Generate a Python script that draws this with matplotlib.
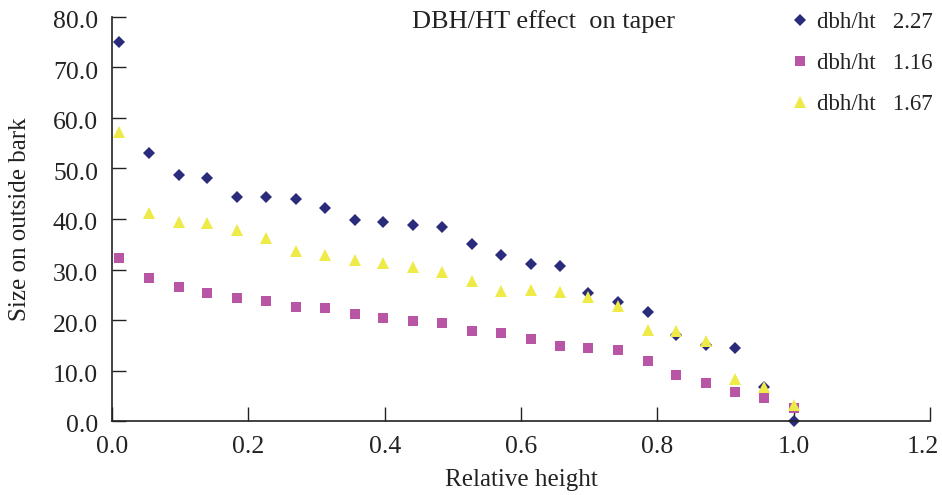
import matplotlib
matplotlib.use("Agg")
import matplotlib.pyplot as plt
from matplotlib.transforms import ScaledTranslation

plt.rcParams['font.family'] = ['Liberation Serif', 'DejaVu Serif']

# Relative height (x) shared by all three series
rel_height = [0.01, 0.055, 0.098, 0.14, 0.183, 0.226, 0.27, 0.313, 0.356, 0.398,
              0.441, 0.484, 0.528, 0.571, 0.614, 0.657, 0.699, 0.743, 0.786, 0.828,
              0.871, 0.914, 0.957, 1.0]

# dbh/ht 2.27
size_227 = [75.0, 53.0, 48.8, 48.2, 44.4, 44.4, 43.9, 42.2, 39.8, 39.5,
            38.9, 38.4, 35.1, 32.9, 31.0, 30.7, 25.4, 23.5, 21.6, 17.1,
            15.1, 14.4, 6.8, 0.0]
# dbh/ht 1.16
size_116 = [32.3, 28.4, 26.5, 25.3, 24.3, 23.7, 22.6, 22.3, 21.2, 20.4,
            19.9, 19.5, 17.9, 17.4, 16.3, 14.9, 14.4, 14.1, 11.8, 9.1,
            7.5, 5.8, 4.5, 2.5]
# dbh/ht 1.67
size_167 = [57.3, 41.2, 39.5, 39.2, 37.8, 36.2, 33.7, 32.8, 31.8, 31.2,
            30.4, 29.6, 27.7, 25.7, 26.0, 25.5, 24.6, 22.7, 18.0, 17.9,
            15.9, 8.3, 6.7, 3.2]

labels = ['dbh/ht   2.27', 'dbh/ht   1.16', 'dbh/ht   1.67']
xticks = [0, 0.2, 0.4, 0.6, 0.8, 1.0, 1.2]
yticks = list(range(0, 90, 10))

fig = plt.figure(figsize=(9.42, 4.95), dpi=100)
ax = fig.add_axes([112 / 942, 1 - 421 / 495, (930 - 112) / 942, (421 - 17) / 495])

ax.plot(rel_height, size_227, 'D', color='#2b2b7c', ms=6.4, mew=0, label=labels[0], clip_on=False)
ax.plot(rel_height, size_116, 's', color='#b955a5', ms=7.2, mew=0, label=labels[1], clip_on=False)
ax.plot(rel_height, size_167, '^', color='#eeea48', ms=8.5, mew=0, label=labels[2], clip_on=False)

ax.set_xlim(0, 1.2)
ax.set_ylim(0, 80)
ax.set_xticks(xticks)
ax.set_yticks(yticks)
ax.set_xticklabels(['%.1f' % v for v in xticks])
ax.set_yticklabels(['%.1f' % v for v in yticks])
ax.tick_params(direction='in', length=10, width=1, labelsize=18.5, colors='#222222')
ax.tick_params(axis='x', pad=11)
ax.tick_params(axis='y', pad=10)

# y labels sit a little below their ticks; last x label pulled inside the figure
dy = ScaledTranslation(0, -3 / 100, fig.dpi_scale_trans)
for t in ax.get_yticklabels():
    t.set_transform(t.get_transform() + dy)
last = ax.get_xticklabels()[-1]
last.set_transform(last.get_transform() + ScaledTranslation(-7 / 100, 0, fig.dpi_scale_trans))

for s in ['top', 'right']:
    ax.spines[s].set_visible(False)
for s in ['left', 'bottom']:
    ax.spines[s].set_linewidth(1.2)
    ax.spines[s].set_color('#222222')

ax.set_xlabel('Relative height', fontsize=18, color='#222222', labelpad=8)
ax.set_ylabel('Size on outside bark', fontsize=18, color='#222222')
ax.yaxis.set_label_coords((31 - 112) / 818, 0.5)

fig.text(412 / 942, 1 - 28 / 495, 'DBH/HT effect  on taper', fontsize=19,
         color='#222222', va='baseline', ha='left')

leg = ax.legend(loc='upper right', bbox_to_anchor=(1.014, 1.036), frameon=False,
                fontsize=16.5, handletextpad=0.2, labelspacing=0.88,
                handlelength=1.0, borderaxespad=0)
for t in leg.get_texts():
    t.set_color('#222222')

fig.savefig('out.png', dpi=100)
